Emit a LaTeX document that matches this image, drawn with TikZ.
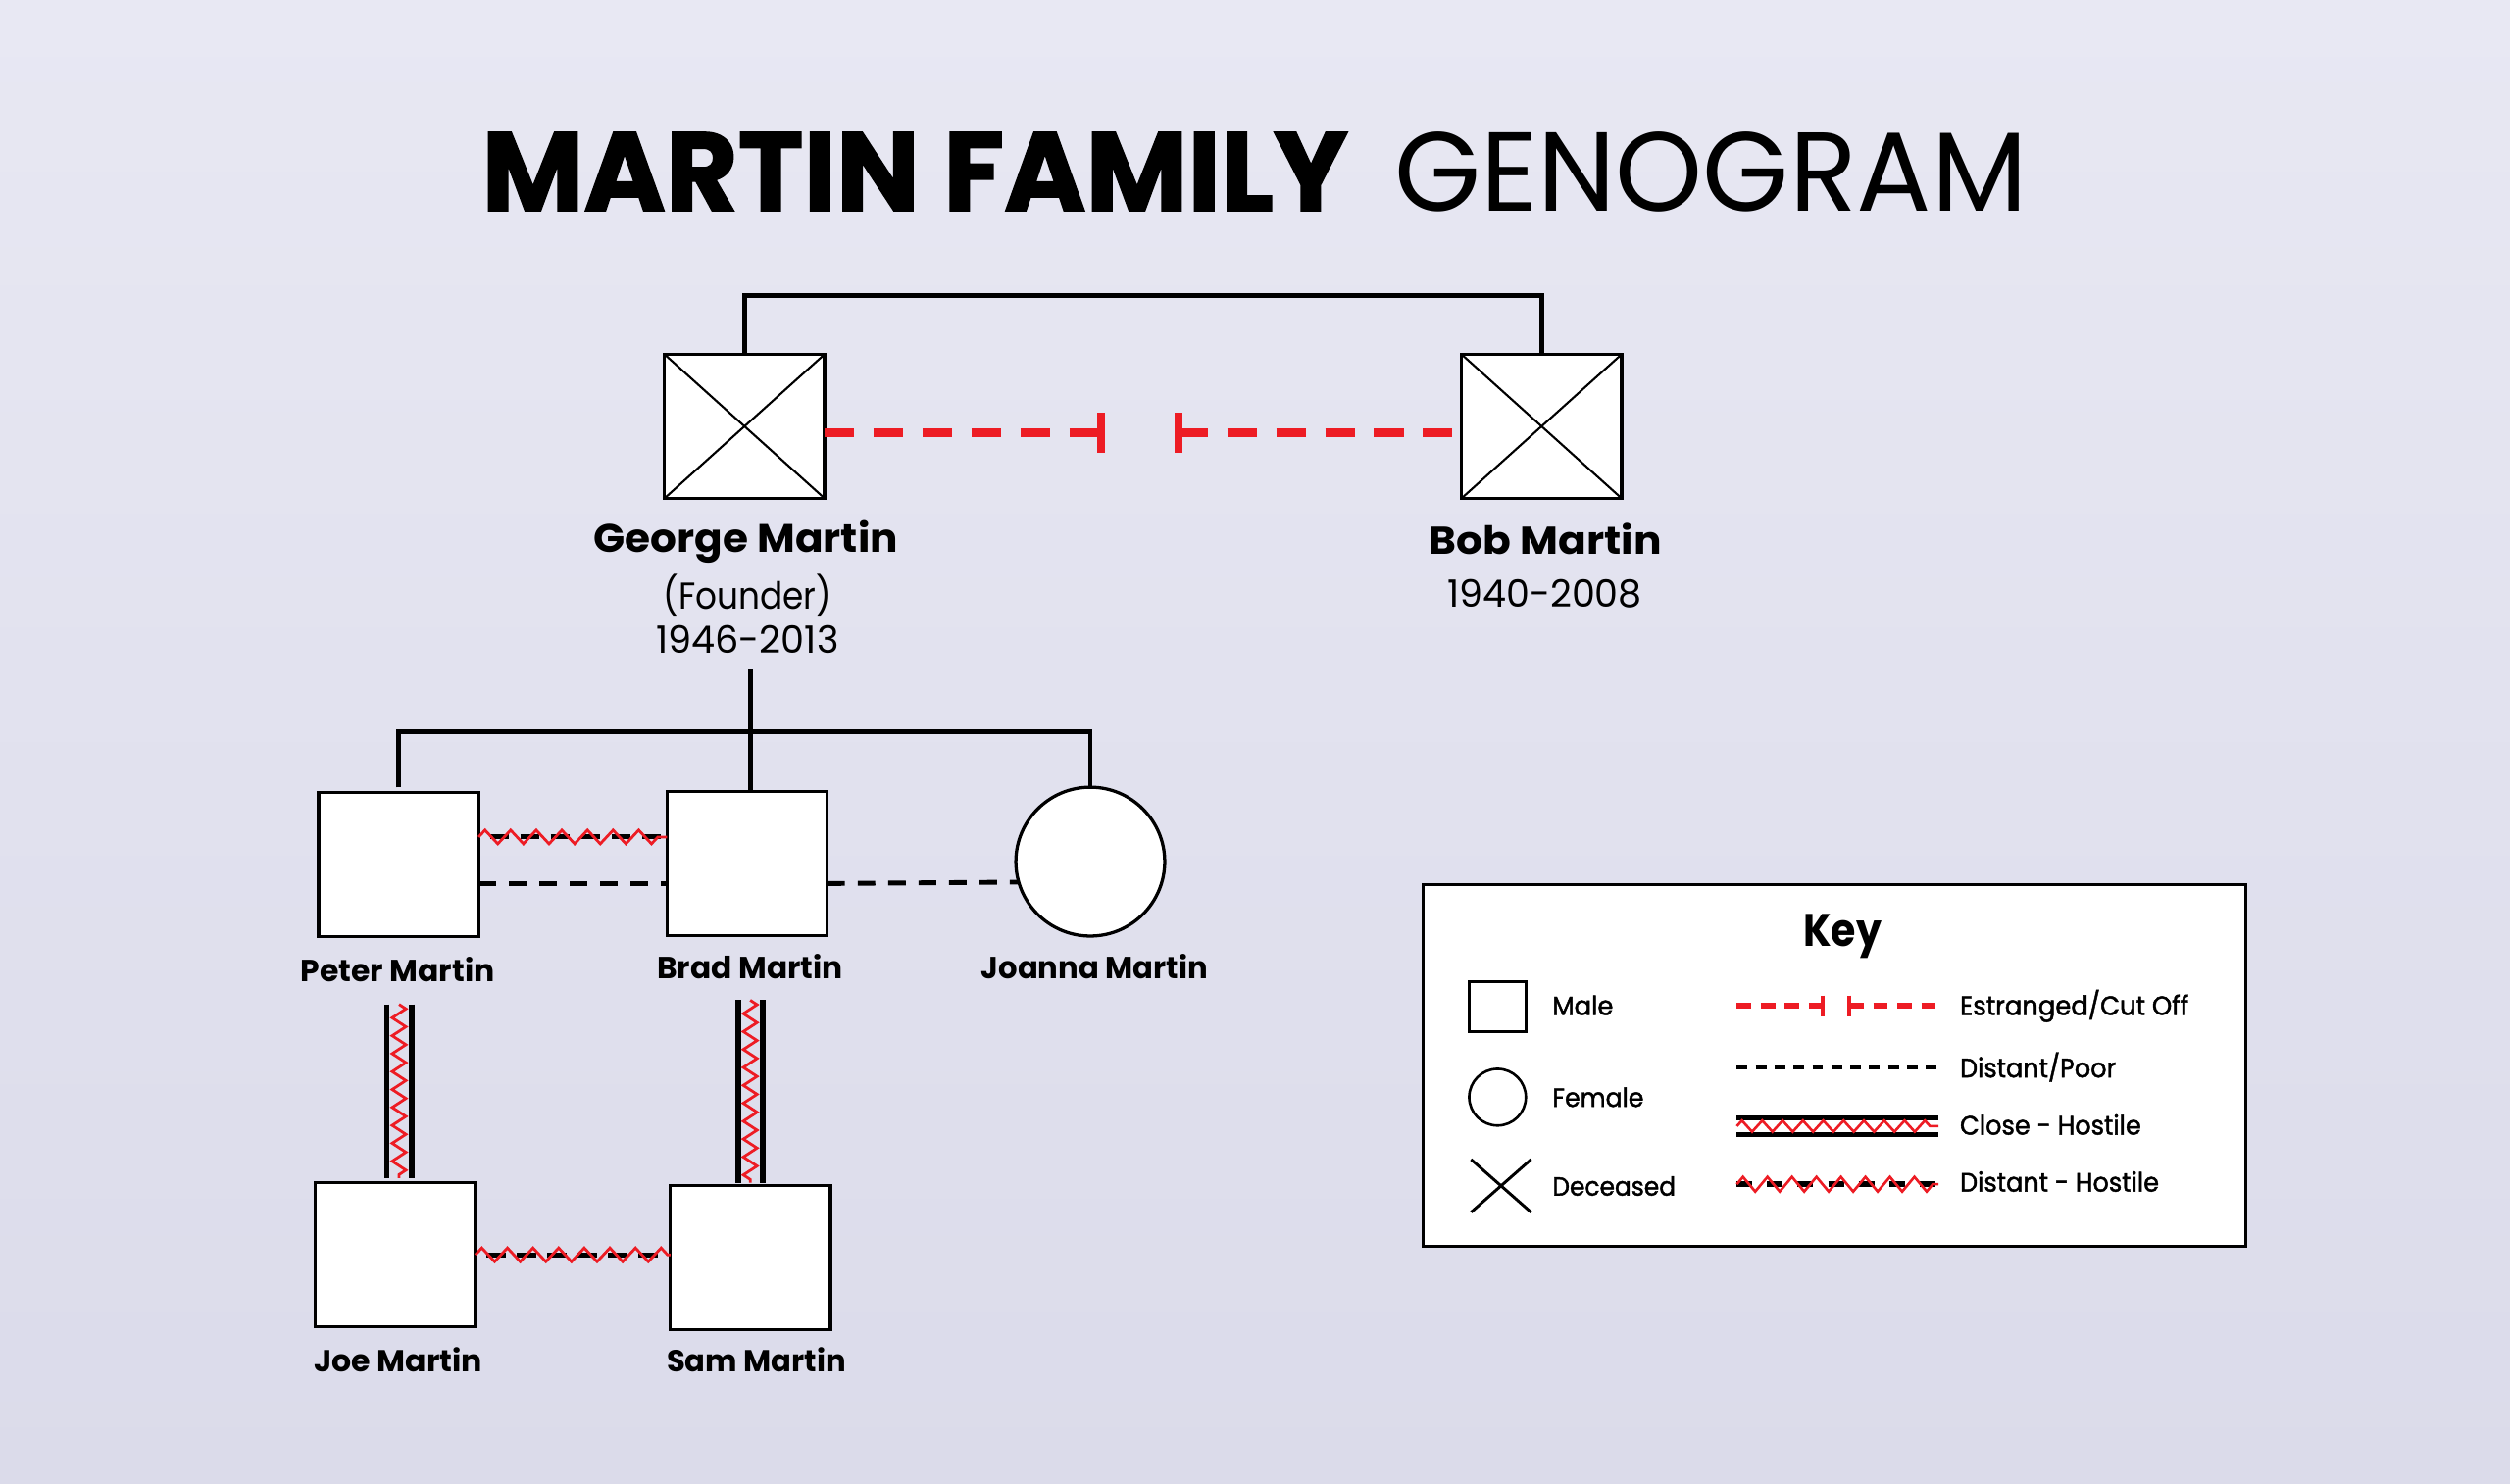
\documentclass[tikz,border=0pt]{standalone}
\usepackage{fontspec}
\setmainfont{Poppins}
\usetikzlibrary{decorations.pathmorphing}
\definecolor{bgd}{RGB}{219,219,234}
\definecolor{bgl}{RGB}{232,232,243}
\definecolor{rd}{RGB}{237,28,36}
\newcommand\fitcap[3]{\resizebox{#1}{#2}{\sbox0{#3}\sbox2{H}\raisebox{0pt}[\ht2][\dp0]{\usebox0}}}
\begin{document}
\begin{tikzpicture}[x=1pt,y=-1pt,
  txt/.style={inner sep=0pt, outer sep=0pt},
  keytxt/.style={inner sep=0pt, outer sep=0pt, anchor=base west, font=\addfontfeatures{FakeBold=1.6}},
  male/.style={draw, fill=white, line width=2pt, minimum width=100pt, minimum height=90pt, inner sep=0pt, outer sep=0pt},
  female/.style={circle, draw, fill=white, line width=2pt, minimum size=93pt, inner sep=0pt, outer sep=0pt},
  fam/.style={line width=3pt},
  cross/.style={line width=1.3pt},
  cutline/.style={rd, line width=5pt, dash pattern=on 18.4pt off 12.2pt},
  cuttick/.style={rd, line width=5pt},
  poor/.style={line width=3pt, dash pattern=on 11pt off 8pt},
  dhbase/.style={line width=3pt, dash pattern=on 12pt off 7pt, dash phase=12pt},
  closeline/.style={line width=3.5pt},
  zzh/.style={rd, line width=1.7pt, decorate, decoration={zigzag, segment length=16pt, amplitude=4.3pt}},
  zzv/.style={rd, line width=1.7pt, decorate, decoration={zigzag, segment length=11.2pt, amplitude=4.3pt}},
]
\useasboundingbox (0,0) rectangle (1568,927);
\shade[top color=bgl, bottom color=bgd] (0,0) rectangle (1568,927);

% title
\node[txt, anchor=base west] (t1) at (301,131.7) {\bfseries\addfontfeatures{FakeBold=1.5}\fitcap{541pt}{49pt}{MARTIN FAMILY}};
\node[txt, anchor=base west] (t2) at (871,131.7) {\fitcap{395.5pt}{49pt}{GENOGRAM}};

% people
\node[male] (g) at (465.1,266.4) {};
\node[male] (b) at (963,266.4) {};
\node[male] (peter) at (249,540.1) {};
\node[male] (brad) at (466.8,539.6) {};
\node[female] (joanna) at (681.1,538.4) {};
\node[male] (joe) at (247,784.1) {};
\node[male] (sam) at (468.8,786) {};
\draw[cross] (g.north west) -- (g.south east) (g.south west) -- (g.north east);
\draw[cross] (b.north west) -- (b.south east) (b.south west) -- (b.north east);

% labels
\node[txt, anchor=base] (gn) at (466,345) {\bfseries\fitcap{190pt}{17.4pt}{George Martin}};
\node[txt, anchor=base] (gf) at (467,380.7) {\fitcap{105pt}{16.3pt}{(Founder)}};
\node[txt, anchor=base] (gd) at (467,408.3) {\fitcap{114pt}{16.4pt}{1946-2013}};
\node[txt, anchor=base] (bn) at (965.5,346.6) {\bfseries\fitcap{145pt}{17pt}{Bob Martin}};
\node[txt, anchor=base] (bd) at (965,379.7) {\fitcap{121.7pt}{16.4pt}{1940-2008}};
\node[txt, anchor=base] (pn) at (248.4,613.4) {\bfseries\fitcap{121.5pt}{13.4pt}{Peter Martin}};
\node[txt, anchor=base] (brn) at (468.6,611.3) {\bfseries\fitcap{116pt}{13.4pt}{Brad Martin}};
\node[txt, anchor=base] (jn) at (683.8,611.3) {\bfseries\fitcap{141.5pt}{13.4pt}{Joanna Martin}};
\node[txt, anchor=base] (jon) at (248.8,857.2) {\bfseries\fitcap{105.3pt}{13.3pt}{Joe Martin}};
\node[txt, anchor=base] (sn) at (472.5,857.3) {\bfseries\fitcap{112pt}{13.3pt}{Sam Martin}};

% family lines
\coordinate (top) at (0,184.7);
\draw[fam] (g.north) |- (top -| b.north) -- (b.north);
\coordinate (gc) at (468.7,418.4);
\coordinate (sib) at (468.7,457.2);
\draw[fam] (gc) -- (gc |- brad.north);
\draw[fam] ([yshift=3pt]peter.north) |- (sib) -| (joanna.north);

% estranged
\coordinate (cutL) at (687.6,270.4);
\coordinate (cutR) at (736,270.4);
\draw[cutline] (g.east |- cutL) -- (cutL);
\draw[cuttick] ([yshift=12.5pt]cutL) -- ([yshift=-12.5pt]cutL);
\draw[cuttick] ([yshift=12.5pt]cutR) -- ([yshift=-12.5pt]cutR);
\draw[cutline] (cutR) -- (b.west |- cutR);

% sibling relations
\coordinate (pb1) at (0,523);
\coordinate (pb2) at (0,552.1);
\draw[dhbase] (peter.east |- pb1) -- (brad.west |- pb1);
\draw[zzh] (peter.east |- pb1) -- (brad.west |- pb1);
\draw[poor] (peter.east |- pb2) -- (brad.west |- pb2);
\draw[poor] (brad.east |- pb2) -- (joanna.196.8);

% close hostile verticals
\coordinate (pj) at (249.3,627.6);
\coordinate (bs) at (468.65,625);
\draw[closeline] ([xshift=-7.75pt]pj) -- ([xshift=-7.75pt,yshift=3pt]pj |- joe.north);
\draw[closeline] ([xshift=7.75pt]pj) -- ([xshift=7.75pt,yshift=3pt]pj |- joe.north);
\draw[zzv] (pj) -- ([yshift=3pt]pj |- joe.north);
\draw[closeline] ([xshift=-7.65pt]bs) -- ([xshift=-7.65pt,yshift=2pt]bs |- sam.north);
\draw[closeline] ([xshift=7.65pt]bs) -- ([xshift=7.65pt,yshift=2pt]bs |- sam.north);
\draw[zzv] (bs) -- ([yshift=2pt]bs |- sam.north);

% Joe - Sam
\draw[dhbase] (joe.east) -- (joe.east -| sam.west);
\draw[zzh] (joe.east) -- (joe.east -| sam.west);

% key
\node[draw, fill=white, line width=2pt, minimum width=514pt, minimum height=225.8pt, inner sep=0pt, outer sep=0pt] (key) at (1146,665.7) {};
\node[txt, anchor=base] (kt) at (1151,591.6) {\bfseries\fitcap{49pt}{20pt}{Key}};
\node[draw, line width=1.6pt, minimum width=35.4pt, minimum height=31.5pt, inner sep=0pt, outer sep=0pt] (kmale) at (935.5,629) {};
\node[circle, draw, line width=1.6pt, minimum size=35.4pt, inner sep=0pt, outer sep=0pt] (kfem) at (935.5,685.6) {};
\node[minimum width=37.5pt, minimum height=33pt, inner sep=0pt, outer sep=0pt] (kdec) at (937.7,741) {};
\draw[line width=1.8pt] (kdec.north west) -- (kdec.south east) (kdec.south west) -- (kdec.north east);
\node[keytxt] (km) at (969.8,634.2) {\fitcap{38pt}{11.4pt}{Male}};
\node[keytxt] (kf) at (969.8,691.6) {\fitcap{57pt}{11.4pt}{Female}};
\node[keytxt] (kd) at (969.8,747.1) {\fitcap{77pt}{11.4pt}{Deceased}};
\node[keytxt] (ke) at (1224.4,634.2) {\fitcap{142.8pt}{11.6pt}{Estranged/Cut Off}};
\node[keytxt] (kp) at (1224.4,673.2) {\fitcap{97.4pt}{11.6pt}{Distant/Poor}};
\node[keytxt] (kc) at (1224.4,709) {\fitcap{113.2pt}{11.6pt}{Close - Hostile}};
\node[keytxt] (kh) at (1224.4,744.6) {\fitcap{124.3pt}{11.6pt}{Distant - Hostile}};

\coordinate (e1) at (1085,628.5);
\coordinate (e2) at (1138.7,628.5);
\coordinate (e3) at (1155.2,628.5);
\coordinate (e4) at (1212,628.5);
\draw[rd, line width=3.3pt, dash pattern=on 9pt off 6pt] (e1) -- (e2);
\draw[rd, line width=2.4pt] ([yshift=6.5pt]e2) -- ([yshift=-6.5pt]e2);
\draw[rd, line width=2.4pt] ([yshift=6.5pt]e3) -- ([yshift=-6.5pt]e3);
\draw[rd, line width=3.3pt, dash pattern=on 9pt off 6pt] (e3) -- (e4);
\coordinate (p1) at (1085,667);
\coordinate (p2) at (1212,667);
\draw[line width=2.4pt, dash pattern=on 6.7pt off 5.1pt] (p1) -- (p2);
\coordinate (c1) at (1085,703.7);
\coordinate (c2) at (1211,703.7);
\draw[line width=2.6pt] ([yshift=5.2pt]c1) -- ([yshift=5.2pt]c2);
\draw[line width=2.6pt] ([yshift=-5.2pt]c1) -- ([yshift=-5.2pt]c2);
\draw[rd, line width=1.6pt, decorate, decoration={zigzag, segment length=12.7pt, amplitude=3.5pt}] (c1) -- (c2);
\coordinate (h1) at (1085,740);
\coordinate (h2) at (1211,740);
\draw[line width=3.7pt, dash pattern=on 9.8pt off 9.2pt] (h1) -- (h2);
\draw[rd, line width=1.6pt, decorate, decoration={zigzag, segment length=15.3pt, amplitude=4.6pt}] (h1) -- (h2);
\end{tikzpicture}
\end{document}
